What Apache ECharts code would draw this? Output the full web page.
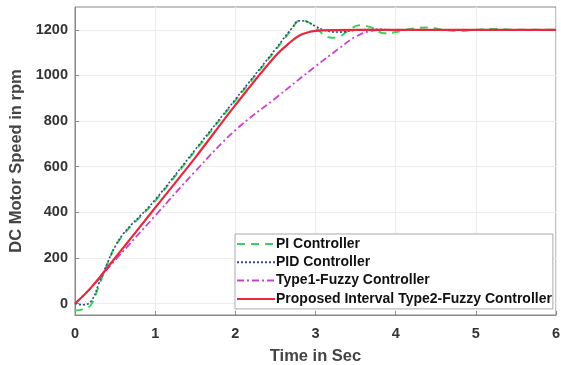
<!DOCTYPE html>
<html>
<head>
<meta charset="utf-8">
<script src="https://cdn.jsdelivr.net/npm/echarts@6/dist/echarts.min.js"></script>
<style>html,body{margin:0;padding:0;background:#fff}#main{width:561px;height:365px}</style>
</head>
<body>
<div id="main"></div>
<script>
// time (s) / speed (rpm)
var piData = [[0,-30],[0.1,-25],[0.2,-5],[0.3,80],[0.4,170],[0.5,250],[0.6,300],[0.7,340],[0.8,375],[1.0,450],[1.5,670],[2.0,890],[2.5,1110],[2.7,1200],[2.8,1240],[2.9,1235],[3.0,1210],[3.1,1180],[3.2,1165],[3.3,1170],[3.4,1195],[3.55,1220],[3.7,1210],[3.85,1185],[4.0,1190],[4.2,1205],[4.4,1210],[4.6,1200],[4.8,1195],[5.0,1200],[5.2,1204],[5.5,1200],[6,1200]];
var pidData = [[0,0],[0.1,-5],[0.2,10],[0.3,90],[0.4,175],[0.5,250],[0.6,305],[0.7,345],[0.8,380],[1.0,455],[1.5,675],[2.0,895],[2.5,1115],[2.7,1205],[2.8,1240],[2.9,1235],[3.0,1215],[3.1,1200],[3.2,1192],[3.3,1190],[3.5,1198],[3.8,1202],[4.0,1200],[6,1200]];
var type1Data = [[0,0],[0.2,70],[0.5,190],[1.0,385],[1.5,580],[2.0,760],[2.5,900],[3.0,1040],[3.3,1120],[3.5,1170],[3.7,1195],[3.9,1200],[6,1200]];
var it2Data = [[0,0],[0.2,70],[0.5,200],[1.0,420],[1.5,640],[2.0,870],[2.5,1085],[2.7,1150],[2.8,1175],[2.9,1188],[3.0,1195],[3.2,1199],[3.5,1200],[6,1200]];
var names = ['PI Controller','PID Controller','Type1-Fuzzy Controller','Proposed Interval Type2-Fuzzy Controller'];
var yTicks = [0,200,400,600,800,1000,1200];

var myChart = echarts.init(document.getElementById('main'));
var lab = {color:'#333', fontWeight:'bold', fontSize:14.5, fontFamily:'Arial, Liberation Sans'};
var option = {
    animation: false,
    grid: {left:75, right:5, top:7, bottom:50, show:true, borderColor:'#888', borderWidth:1, outerBoundsMode:'none', containLabel:false},
    legend: {
        orient:'vertical', left:235, top:234, itemGap:4.3, itemWidth:38, itemHeight:14,
        backgroundColor:'#fff', borderColor:'#aaa', borderWidth:1, padding:[3,1,3,1],
        itemStyle:{opacity:0},
        textStyle:{color:'#111', fontWeight:'bold', fontSize:14, fontFamily:'Arial, Liberation Sans', padding:[0,0,0,-4]},
        data: names
    },
    xAxis: {
        type:'value', min:0, max:6, interval:1,
        name:'Time in Sec', nameLocation:'middle', nameGap:33,
        nameTextStyle:{color:'#444', fontWeight:'bold', fontSize:16.5, fontFamily:'Arial, Liberation Sans'},
        axisLine:{onZero:false, lineStyle:{color:'#888'}}, axisTick:{inside:true, length:4, lineStyle:{color:'#888'}},
        axisLabel:Object.assign({margin:11}, lab), splitLine:{show:true, lineStyle:{color:'#ececec'}}
    },
    yAxis: {
        type:'value', min:-50, max:1300,
        name:'DC Motor Speed in rpm', nameLocation:'middle', nameGap:46,
        nameTextStyle:{color:'#444', fontWeight:'bold', fontSize:16.5, fontFamily:'Arial, Liberation Sans'},
        axisLine:{show:true, lineStyle:{color:'#888'}},
        axisTick:{inside:true, length:4, customValues:yTicks, lineStyle:{color:'#888'}},
        axisLabel:Object.assign({customValues:yTicks, margin:7, formatter:function(v){return String(v);}}, lab),
        splitLine:{show:true, lineStyle:{color:'#ececec'}}
    },
    series: [
        {name:names[0], type:'line', data:piData, symbol:'none', smooth:0.4,
         lineStyle:{color:'#3dd15a', width:2, type:[8,6]}, itemStyle:{color:'#3dd15a'}, z:3},
        {name:names[1], type:'line', data:pidData, symbol:'none', smooth:0.4,
         lineStyle:{color:'#2a4f8a', width:1.6, type:[2,2]}, itemStyle:{color:'#2a4f8a'}, z:4},
        {name:names[2], type:'line', data:type1Data, symbol:'none', smooth:0.4,
         lineStyle:{color:'#cc3fd0', width:1.8, type:[7,3,2,3]}, itemStyle:{color:'#cc3fd0'}, z:2},
        {name:names[3], type:'line', data:it2Data, symbol:'none', smooth:0.4,
         lineStyle:{color:'#e8283c', width:2.2}, itemStyle:{color:'#e8283c'}, z:5}
    ]
};
myChart.setOption(option);
</script>
</body>
</html>
